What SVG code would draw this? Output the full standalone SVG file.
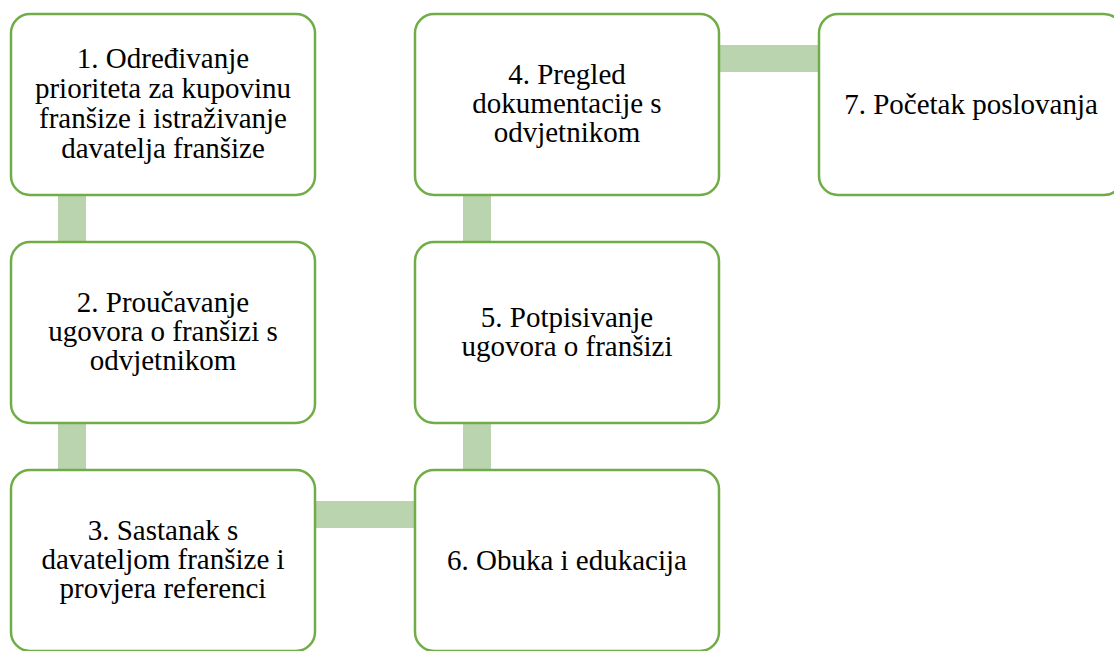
<svg xmlns="http://www.w3.org/2000/svg" width="1114" height="651" viewBox="0 0 1114 651">
<style>
.node{fill:#ffffff;stroke:#70AD47;stroke-width:2.5}
.conn{fill:#BBD4B0}
.t{font-family:"Times New Roman","Liberation Serif",Tinos,"Noto Serif","DejaVu Serif",serif;font-size:29px;fill:#000000;text-anchor:middle}
</style>
<rect width="1114" height="651" fill="#ffffff"/>
<g id="connectors">
<rect class="conn" x="58" y="195" width="28" height="48"/>
<rect class="conn" x="58" y="423" width="28" height="48"/>
<rect class="conn" x="315" y="501" width="101" height="27"/>
<rect class="conn" x="463" y="423" width="28" height="48"/>
<rect class="conn" x="463" y="195" width="28" height="48"/>
<rect class="conn" x="719" y="45" width="100" height="27"/>
</g>
<g id="node1">
<rect class="node" x="11" y="14" width="304" height="181" rx="19"/>
<text class="t" x="163" y="68">1. Određivanje</text>
<text class="t" x="163" y="98">prioriteta za kupovinu</text>
<text class="t" x="163" y="128">franšize i istraživanje</text>
<text class="t" x="163" y="158">davatelja franšize</text>
</g>
<g id="node2">
<rect class="node" x="11" y="242" width="304" height="181" rx="19"/>
<text class="t" x="163" y="312">2. Proučavanje</text>
<text class="t" x="163" y="341">ugovora o franšizi s</text>
<text class="t" x="163" y="370">odvjetnikom</text>
</g>
<g id="node3">
<rect class="node" x="11" y="470" width="304" height="181" rx="19"/>
<text class="t" x="163" y="540">3. Sastanak s</text>
<text class="t" x="163" y="569">davateljom franšize i</text>
<text class="t" x="163" y="598">provjera referenci</text>
</g>
<g id="node4">
<rect class="node" x="415" y="14" width="304" height="181" rx="19"/>
<text class="t" x="567" y="84">4. Pregled</text>
<text class="t" x="567" y="113">dokumentacije s</text>
<text class="t" x="567" y="142">odvjetnikom</text>
</g>
<g id="node5">
<rect class="node" x="415" y="242" width="304" height="181" rx="19"/>
<text class="t" x="567" y="327">5. Potpisivanje</text>
<text class="t" x="567" y="356">ugovora o franšizi</text>
</g>
<g id="node6">
<rect class="node" x="415" y="470" width="304" height="181" rx="19"/>
<text class="t" x="567" y="570">6. Obuka i edukacija</text>
</g>
<g id="node7">
<rect class="node" x="819" y="14" width="304" height="181" rx="19"/>
<text class="t" x="971" y="114">7. Početak poslovanja</text>
</g>
</svg>
